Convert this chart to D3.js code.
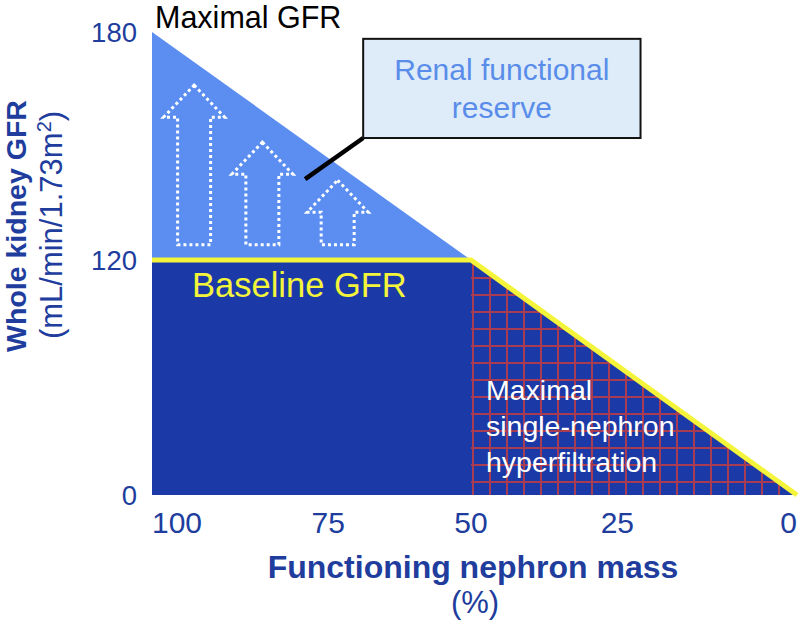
<!DOCTYPE html>
<html>
<head>
<meta charset="utf-8">
<script src="https://cdn.jsdelivr.net/npm/d3@7"></script>
<style>
  html, body { margin: 0; padding: 0; background: #ffffff; }
  svg { display: block; font-family: "Liberation Sans", Arial, Helvetica, sans-serif; }
</style>
</head>
<body>
<svg id="chart" width="800" height="625"></svg>
<script>
// ---- data ----
const massTicks = [100, 75, 50, 25, 0];           // functioning nephron mass (%)
const gfrTicks = [0, 120, 180];                    // whole kidney GFR
const maximalGFR = [ {mass: 100, gfr: 180}, {mass: 50, gfr: 120} ];
const baselineGFR = [ {mass: 100, gfr: 120}, {mass: 50, gfr: 120}, {mass: 0, gfr: 0} ];
const hyperfiltrationStart = 50;
const reserveArrows = [
  {mass: 93.4, base: 124, tip: 166},
  {mass: 82.7, base: 124, tip: 151},
  {mass: 70.9, base: 124, tip: 141}
];
const calloutPoint = {mass: 76, gfr: 141.3};
const calloutBox = {mass0: 66.9, mass1: 24, gfr0: 178.2, gfr1: 152.1};
const labels = {
  maximal: "Maximal GFR",
  reserve: ["Renal functional", "reserve"],
  baseline: "Baseline GFR",
  hyper: ["Maximal", "single-nephron", "hyperfiltration"],
  yTitle: "Whole kidney GFR",
  yUnit: "(mL/min/1.73m",
  xTitle: "Functioning nephron mass",
  xUnit: "(%)"
};

// ---- colours ----
const DARK = "#1b3aa7", LIGHT = "#5b8ef0", TEXT = "#203d9e",
      YELLOW = "#f4f53a", GRID = "#a83c52", BOXFILL = "#deebf9", BOXTEXT = "#5a8de9";

const svg = d3.select("#chart");

// piecewise linear scales (the original axes are not proportional)
const x = d3.scaleLinear().domain([100, 50, 0]).range([152, 471, 797]);
const y = d3.scaleLinear().domain([0, 120, 180]).range([495, 260, 32]);

const line = d3.line().x(d => x(d.mass)).y(d => y(d.gfr));

// hatch pattern
const defs = svg.append("defs");
const pat = defs.append("pattern")
  .attr("id", "grid").attr("patternUnits", "userSpaceOnUse")
  .attr("x", x(hyperfiltrationStart) + 1).attr("y", y(120))
  .attr("width", 17).attr("height", 17);
pat.append("rect").attr("width", 17).attr("height", 17).attr("fill", DARK);
pat.append("rect").attr("x", 0).attr("y", 0).attr("width", 2).attr("height", 17).attr("fill", GRID);
pat.append("rect").attr("x", 0).attr("y", 0).attr("width", 17).attr("height", 2).attr("fill", GRID);

// light blue reserve triangle
const reservePoly = [maximalGFR[0], maximalGFR[1], {mass: 100, gfr: 120}];
svg.append("path").attr("d", line(reservePoly) + "Z").attr("fill", LIGHT);

// dark baseline area
const basePoly = [...baselineGFR, {mass: 100, gfr: 0}];
svg.append("path").attr("d", line(basePoly) + "Z").attr("fill", DARK);

// hatched hyperfiltration triangle
const hyperPoly = [{mass: hyperfiltrationStart, gfr: 120}, {mass: 0, gfr: 0}, {mass: hyperfiltrationStart, gfr: 0}];
svg.append("path").attr("d", line(hyperPoly) + "Z").attr("fill", "url(#grid)");

// yellow baseline line
svg.append("path").attr("d", line(baselineGFR))
  .attr("fill", "none").attr("stroke", YELLOW).attr("stroke-width", 5);

// dotted arrows
const HEAD = 30.5, SHAFT = 16.5, HEADH = 32;
svg.append("g").selectAll("path").data(reserveArrows).join("path")
  .attr("d", d => {
    const cx = x(d.mass), ty = y(d.tip), by = y(d.base), hy = ty + HEADH;
    return `M${cx},${ty}L${cx + HEAD},${hy}L${cx + SHAFT},${hy}L${cx + SHAFT},${by}` +
           `L${cx - SHAFT},${by}L${cx - SHAFT},${hy}L${cx - HEAD},${hy}Z`;
  })
  .attr("fill", "none").attr("stroke", "#ffffff").attr("stroke-width", 3)
  .attr("stroke-dasharray", "3,3");

// callout
const bx0 = x(calloutBox.mass0), bx1 = x(calloutBox.mass1),
      by0 = y(calloutBox.gfr0), by1 = y(calloutBox.gfr1);
svg.append("line")
  .attr("x1", x(calloutPoint.mass)).attr("y1", y(calloutPoint.gfr))
  .attr("x2", bx0).attr("y2", by1)
  .attr("stroke", "#000").attr("stroke-width", 4.5);
svg.append("rect").attr("x", bx0).attr("y", by0)
  .attr("width", bx1 - bx0).attr("height", by1 - by0)
  .attr("fill", BOXFILL).attr("stroke", "#111").attr("stroke-width", 2);
const cxBox = (bx0 + bx1) / 2;
svg.append("text").attr("x", cxBox).attr("y", 80).attr("text-anchor", "middle")
  .attr("font-size", 30).attr("fill", BOXTEXT).text(labels.reserve[0]);
svg.append("text").attr("x", cxBox).attr("y", 118).attr("text-anchor", "middle")
  .attr("font-size", 30).attr("fill", BOXTEXT).text(labels.reserve[1]);

// Maximal GFR label
svg.append("text").attr("x", 155).attr("y", 27.5)
  .attr("font-size", 30.5).attr("fill", "#000").text(labels.maximal);

// Baseline GFR label
svg.append("text").attr("x", 192).attr("y", 297)
  .attr("font-size", 34.5).attr("fill", YELLOW).text(labels.baseline);

// hyperfiltration label
svg.append("text").attr("font-size", 28.5).attr("fill", "#ffffff")
  .selectAll("tspan").data(labels.hyper).join("tspan")
  .attr("x", 486).attr("y", (d, i) => 400 + i * 36).text(d => d);

// y tick labels
svg.append("g").selectAll("text").data(gfrTicks).join("text")
  .attr("x", 137).attr("y", d => y(d)).attr("dy", "0.35em")
  .attr("text-anchor", "end").attr("font-size", 27.5).attr("fill", TEXT)
  .text(d => d);

// x tick labels
const anchors = ["start", "start", "middle", "end", "end"];
svg.append("g").selectAll("text").data(massTicks).join("text")
  .attr("x", d => x(d)).attr("y", 533)
  .attr("text-anchor", (d, i) => anchors[i]).attr("font-size", 30).attr("fill", TEXT)
  .text(d => d);

// axis titles
svg.append("text").attr("transform", "translate(26,226) rotate(-90)")
  .attr("text-anchor", "middle").attr("font-size", 28.5).attr("font-weight", "bold")
  .attr("fill", TEXT).text(labels.yTitle);
const yu = svg.append("text").attr("transform", "translate(62,225) rotate(-90)")
  .attr("text-anchor", "middle").attr("font-size", 31).attr("fill", TEXT);
yu.append("tspan").text(labels.yUnit);
yu.append("tspan").attr("font-size", 20).attr("dy", -11).text("2");
yu.append("tspan").attr("dy", 11).text(")");

svg.append("text").attr("x", 473).attr("y", 578).attr("text-anchor", "middle")
  .attr("font-size", 32).attr("font-weight", "bold").attr("fill", TEXT).text(labels.xTitle);
svg.append("text").attr("x", 475).attr("y", 613).attr("text-anchor", "middle")
  .attr("font-size", 31).attr("fill", TEXT).text(labels.xUnit);
</script>
</body>
</html>
